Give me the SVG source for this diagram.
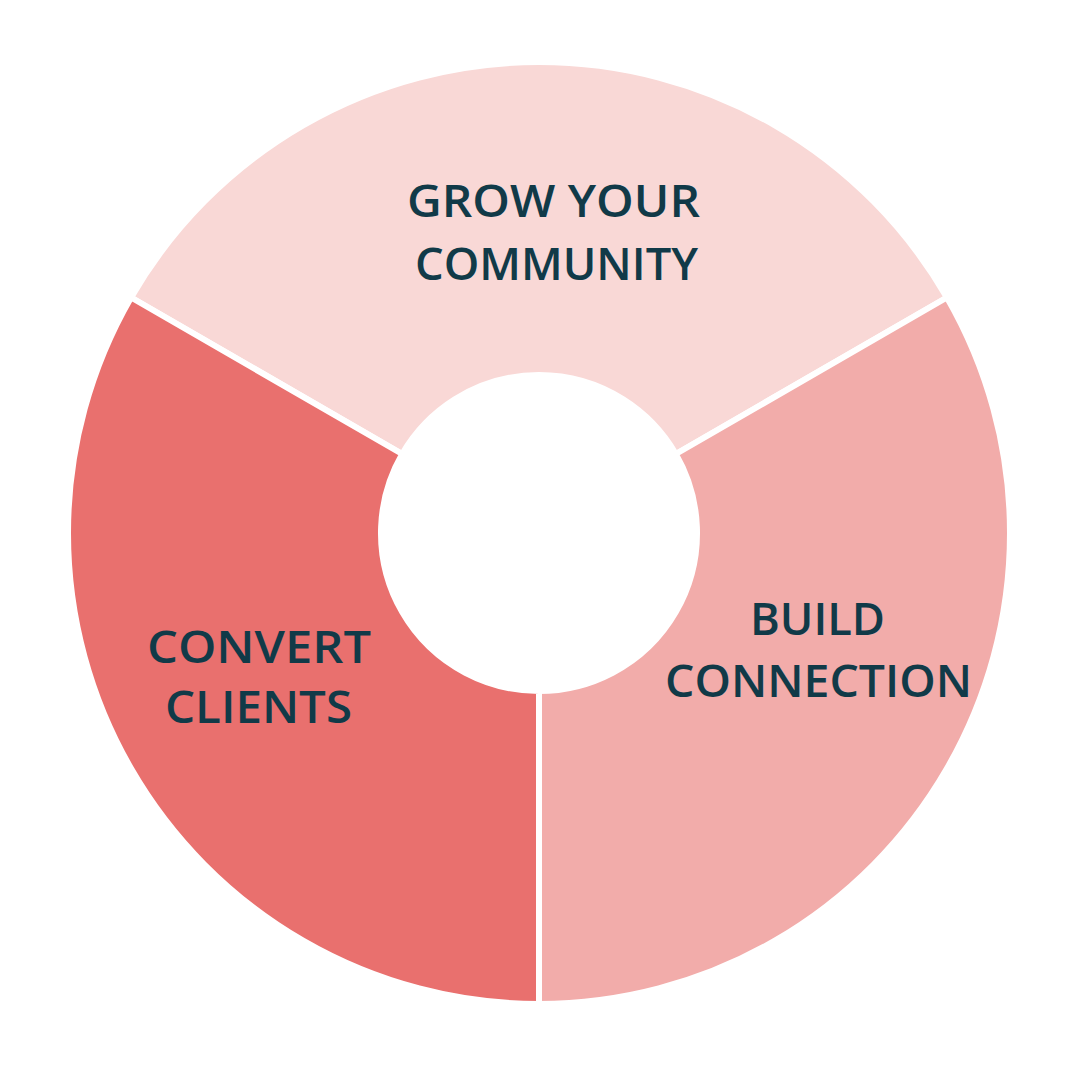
<svg xmlns="http://www.w3.org/2000/svg" width="1080" height="1080" viewBox="0 0 1080 1080">
<style>
.seg{stroke:#ffffff;stroke-width:6;stroke-linejoin:miter}
.lbl{font-family:"Open Sans","Liberation Sans",sans-serif;font-weight:600;font-size:45px;fill:#113A48;text-anchor:middle}
</style>
<rect width="1080" height="1080" fill="#ffffff"/>
<g id="grow">
<path class="seg" fill="#F9D8D6" d="M131.10,297.5 A471,471 0 0 1 946.90,297.5 L675.83,454 A158,158 0 0 0 402.17,454 Z"/>
<text class="lbl" x="553.5" y="217" textLength="293" lengthAdjust="spacingAndGlyphs">GROW YOUR</text>
<text class="lbl" x="556.5" y="280" textLength="283" lengthAdjust="spacingAndGlyphs">COMMUNITY</text>
</g>
<g id="build">
<path class="seg" fill="#F2ACAA" d="M946.90,297.5 A471,471 0 0 1 539,1004 L539,691 A158,158 0 0 0 675.83,454 Z"/>
<text class="lbl" x="817.5" y="635" textLength="135" lengthAdjust="spacingAndGlyphs">BUILD</text>
<text class="lbl" x="818.5" y="697" textLength="307" lengthAdjust="spacingAndGlyphs">CONNECTION</text>
</g>
<g id="convert">
<path class="seg" fill="#E9706E" d="M539,1004 A471,471 0 0 1 131.10,297.5 L402.17,454 A158,158 0 0 0 539,691 Z"/>
<text class="lbl" x="259" y="663" textLength="224" lengthAdjust="spacingAndGlyphs">CONVERT</text>
<text class="lbl" x="258.5" y="723" textLength="187" lengthAdjust="spacingAndGlyphs">CLIENTS</text>
</g>
<g id="connectors"></g>
</svg>
